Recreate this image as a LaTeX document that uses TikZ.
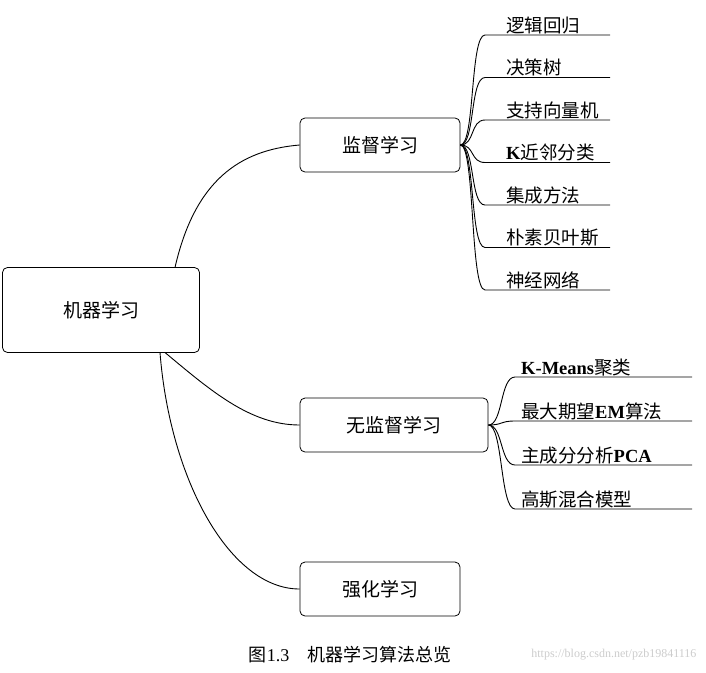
\documentclass[tikz,border=0pt]{standalone}
\usepackage{fontspec}
\setmainfont{Liberation Serif}
\newfontfamily\cjk{Noto Sans CJK SC}
\newcommand{\lb}[1]{{\rmfamily\bfseries #1}}
\begin{document}
\begin{tikzpicture}[x=1pt,y=-1pt,
 box/.style={draw,thick,rounded corners=5pt,font=\cjk\fontsize{19}{22}\selectfont},
 leaf/.style={anchor=south west,inner sep=1pt,font=\cjk\fontsize{18.5}{22}\selectfont},
 con/.style={line width=0.9pt}]
\useasboundingbox (0,0) rectangle (706,672);
\node[box,minimum width=197,minimum height=85] (root) at (101,310) {机器学习};
\node[box,minimum width=160,minimum height=54] (sup) at (380,145) {监督学习};
\node[box,minimum width=188,minimum height=54] (uns) at (394,425) {无监督学习};
\node[box,minimum width=160,minimum height=54] (rl) at (380,589) {强化学习};
\coordinate (r1) at (175,267.5);
\coordinate (r2) at (165,352.5);
\coordinate (r3) at (160,352.5);
\draw[con] (r1) .. controls (195,180) and (240,150) .. (sup.west);
\draw[con] (r2) .. controls (210,390) and (250,425) .. (uns.west);
\draw[con] (r3) .. controls (170,480) and (230,589) .. (rl.west);
\foreach \t [count=\i] in {逻辑回归,决策树,支持向量机,{\lb{K}近邻分类},集成方法,朴素贝叶斯,神经网络}{
  \pgfmathsetmacro\yy{35+(\i-1)*42.5}
  \coordinate (a\i) at (485,\yy);
  \coordinate (b\i) at (610,\yy);
  \node[leaf] (s\i) at (505,\yy) {\t};
  \draw[con] (sup.east) .. controls (475,145) and (470,\yy) .. (a\i) -- (b\i);
}
\foreach \t [count=\i] in {{\lb{K-Means}聚类},{最大期望\lb{EM}算法},{主成分分析\lb{PCA}},高斯混合模型}{
  \pgfmathsetmacro\yy{377+(\i-1)*44}
  \coordinate (c\i) at (515,\yy);
  \coordinate (d\i) at (692,\yy);
  \node[leaf] (u\i) at (520,\yy) {\t};
  \draw[con] (uns.east) .. controls (503,425) and (500,\yy) .. (c\i) -- (d\i);
}
\node[font=\fontsize{18}{20}\selectfont] (cap) at (350,655) {{\cjk 图}1.3\quad {\cjk 机器学习算法总览}};
\node[anchor=east,text=gray!40,font=\fontsize{12}{13}\selectfont] (wm) at (700,655) {https://blog.csdn.net/pzb19841116};
\end{tikzpicture}
\end{document}
